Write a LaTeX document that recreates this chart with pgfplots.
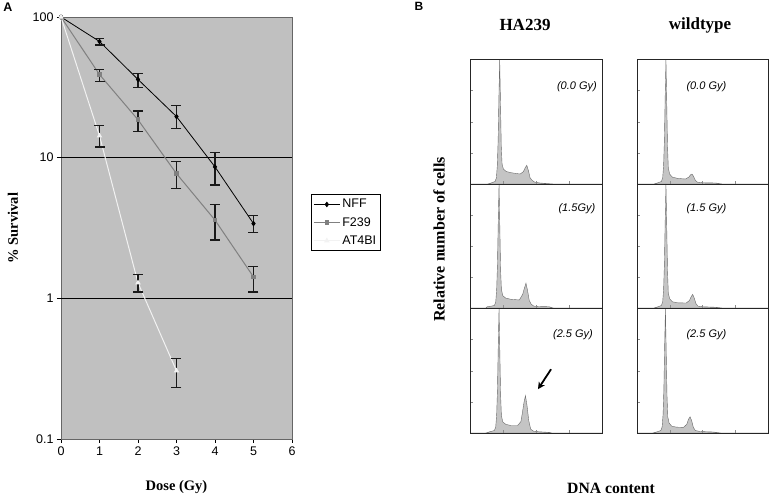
\documentclass[border=0pt]{standalone}
\usepackage{pgfplots}
\pgfplotsset{compat=1.18}
\usetikzlibrary{arrows.meta}
\usepackage{fontspec}
\setmainfont{Liberation Serif}
\newfontfamily\arial{Liberation Sans}
\definecolor{plotbg}{RGB}{192,192,192}
\definecolor{fgray}{RGB}{128,128,128}
\definecolor{atw}{RGB}{242,242,242}
\definecolor{histfill}{RGB}{196,196,196}
\definecolor{histline}{RGB}{105,105,105}
\tikzset{gylab/.style={font=\arial\itshape\fontsize{11}{13}\selectfont}}
\pgfplotsset{
  hist/.style={scale only axis, width=132pt, height=124.5pt,
    xmin=0, xmax=1, ymin=0, ymax=1,
    xtick={0.25,0.5,0.75}, ytick={0.25,0.5,0.75},
    xticklabels={}, yticklabels={},
    tick align=inside, tick pos=left, major tick length=3pt,
    tick style={black!45, line width=0.4pt},
    axis line style={black!85, line width=0.7pt},
    axis on top},
  histplot/.style={fill=histfill, draw=histline, line width=0.4pt},
  eb/.style={error bars/.cd, y dir=both, y explicit,
    error bar style={black!90, line width=1.2pt},
    error mark options={rotate=90, mark size=5pt, black!90, line width=1.2pt}}
}
\begin{document}
\begin{tikzpicture}
\path[use as bounding box] (0pt,0pt) rectangle (769pt,498pt);

% ---------------- Panel A ----------------
\begin{axis}[at={(61pt,59pt)}, anchor=south west, scale only axis,
  width=231pt, height=422pt,
  xmin=0, xmax=6, ymode=log, log basis y=10, ymin=0.1, ymax=100,
  xtick={0,1,2,3,4,5,6},
  ytick={0.1,1,10,100}, yticklabels={0.1,1,10,100}, yminorticks=false,
  axis background/.style={fill=plotbg},
  axis line style={black!60, line width=0.8pt},
  tick align=outside, tick pos=left, major tick length=4pt,
  tick style={black, line width=0.8pt},
  tick label style={font=\arial\fontsize{12.5}{14}\selectfont},
  /pgf/number format/assume math mode=true,
  extra y ticks={1,10}, extra y tick labels={},
  extra y tick style={grid=major, major grid style={black, line width=0.9pt}, major tick length=0pt},
  xlabel={Dose (Gy)}, ylabel={\% Survival},
  label style={font=\fontsize{14.5}{16}\selectfont\bfseries},
  xlabel style={at={(axis description cs:0.5,-0.114)}, anchor=center},
  ylabel style={at={(axis description cs:-0.208,0.5)}, anchor=center},
  legend style={at={(1.082,0.5806)}, anchor=north west, draw=black, fill=white,
    font=\arial\fontsize{12.5}{14}\selectfont, inner xsep=2pt, inner ysep=3pt,
    row sep=4pt, legend cell align=left, line width=0.8pt},
  legend image code/.code={\draw[#1] (0pt,0pt) -- (26pt,0pt);
     \draw[#1, mark repeat=2, mark phase=2] plot coordinates {(0pt,0pt) (13pt,0pt) (26pt,0pt)};},
]
\addplot[black, line width=0.8pt, mark=diamond*, mark size=2.2pt, mark options={black}, eb]
  coordinates {(0,100) (1,67) += (0,3.6) -= (0,3.8) (2,36) += (0,3.9) -= (0,4.3)
   (3,19.6) += (0,3.9) -= (0,3.5) (4,8.6) += (0,2.3) -= (0,2.2) (5,3.4) += (0,0.5) -= (0,0.48)};
\addlegendentry{NFF}
\addplot[fgray, line width=1pt, mark=square*, mark size=1.8pt, mark options={fgray}, eb]
  coordinates {(0,100) (1,39) += (0,3.1) -= (0,4.2) (2,18.6) += (0,2.9) -= (0,3.2)
   (3,7.7) += (0,1.7) -= (0,1.7) (4,3.6) += (0,1.04) -= (0,1.0) (5,1.42) += (0,0.27) -= (0,0.31)};
\addlegendentry{F239}
\addplot[atw, line width=1pt, mark=triangle*, mark size=2.2pt, mark options={atw}, eb]
  coordinates {(0,100) (1,14.3) += (0,2.6) -= (0,2.4) (2,1.29) += (0,0.19) -= (0,0.18)
   (3,0.305) += (0,0.07) -= (0,0.072)};
\addlegendentry{AT4BI}
\end{axis}
\node[font=\arial\bfseries\fontsize{12.5}{14}\selectfont] at (8pt,491pt) {A};

% ---------------- Panel B ----------------
\node[font=\arial\bfseries\fontsize{12}{14}\selectfont] at (419pt,492pt) {B};
\node[font=\bfseries\fontsize{17}{19}\selectfont] at (525pt,473pt) {HA239};
\node[font=\bfseries\fontsize{17}{19}\selectfont] at (700pt,473pt) {wildtype};
\node[font=\bfseries\fontsize{16}{18}\selectfont, rotate=90] at (439pt,258.5pt) {Relative number of cells};
\node[font=\bfseries\fontsize{15.7}{17}\selectfont] at (611pt,10pt) {DNA content};

% left column
\begin{axis}[hist, at={(470pt,314pt)}, anchor=south west]
\addplot[histplot] coordinates {(0,0) (0.135,0) (0.165,0.01) (0.19,0.02) (0.2,0.05) (0.207,0.15) (0.213,0.35) (0.219,0.7) (0.225,1) (0.231,0.65) (0.237,0.3) (0.243,0.16) (0.253,0.12) (0.275,0.1) (0.315,0.09) (0.38,0.08) (0.405,0.1) (0.418,0.13) (0.43,0.15) (0.442,0.11) (0.455,0.05) (0.47,0.03) (0.49,0.015) (0.53,0.008) (0.63,0) (1,0)} \closedcycle;
\node[gylab] at (rel axis cs:0.81,0.785) {(0.0 Gy)};
\end{axis}
\begin{axis}[hist, at={(470pt,190pt)}, anchor=south west, height=124pt]
\addplot[histplot] coordinates {(0,0) (0.12,0) (0.13,0.01) (0.16,0.015) (0.185,0.02) (0.195,0.05) (0.202,0.15) (0.208,0.35) (0.214,0.7) (0.22,1) (0.226,0.65) (0.232,0.3) (0.238,0.15) (0.248,0.1) (0.27,0.08) (0.31,0.07) (0.374,0.065) (0.399,0.11) (0.412,0.16) (0.424,0.2) (0.436,0.14) (0.449,0.06) (0.464,0.03) (0.484,0.015) (0.52,0.012) (0.6,0.01) (0.63,0) (1,0)} \closedcycle;
\node[gylab] at (rel axis cs:0.81,0.805) {(1.5Gy)};
\end{axis}
\begin{axis}[hist, at={(470pt,65pt)}, anchor=south west]
\addplot[histplot] coordinates {(0,0) (0.12,0) (0.15,0.01) (0.185,0.02) (0.195,0.05) (0.202,0.15) (0.208,0.35) (0.214,0.7) (0.22,1) (0.226,0.65) (0.232,0.3) (0.238,0.14) (0.248,0.09) (0.27,0.07) (0.31,0.06) (0.36,0.06) (0.385,0.09) (0.395,0.15) (0.408,0.24) (0.42,0.3) (0.432,0.22) (0.445,0.1) (0.46,0.03) (0.48,0.015) (0.52,0.01) (0.6,0.005) (0.62,0) (1,0)} \closedcycle;
\node[gylab] at (rel axis cs:0.78,0.79) {(2.5 Gy)};
\draw[-{Stealth[length=7pt,width=7pt]}, line width=1.8pt, black] (axis cs:0.614,0.512) -- (axis cs:0.515,0.352);
\end{axis}

% right column
\begin{axis}[hist, at={(637pt,314pt)}, anchor=south west, width=131pt]
\addplot[histplot] coordinates {(0,0) (0.13,0) (0.16,0.01) (0.186,0.02) (0.196,0.05) (0.203,0.15) (0.209,0.35) (0.215,0.7) (0.221,1) (0.227,0.65) (0.233,0.3) (0.239,0.13) (0.249,0.08) (0.27,0.055) (0.31,0.045) (0.37,0.04) (0.395,0.055) (0.41,0.075) (0.42,0.08) (0.432,0.06) (0.445,0.03) (0.46,0.015) (0.5,0.01) (0.6,0.008) (0.65,0) (1,0)} \closedcycle;
\node[gylab] at (rel axis cs:0.53,0.785) {(0.0 Gy)};
\end{axis}
\begin{axis}[hist, at={(637pt,190pt)}, anchor=south west, width=131pt, height=124pt]
\addplot[histplot] coordinates {(0,0) (0.13,0) (0.16,0.01) (0.186,0.02) (0.196,0.05) (0.203,0.15) (0.209,0.35) (0.215,0.7) (0.221,1) (0.227,0.65) (0.233,0.3) (0.239,0.12) (0.249,0.075) (0.27,0.05) (0.31,0.042) (0.375,0.04) (0.4,0.06) (0.413,0.09) (0.425,0.11) (0.437,0.08) (0.45,0.035) (0.465,0.015) (0.5,0.01) (0.6,0.006) (0.65,0) (1,0)} \closedcycle;
\node[gylab] at (rel axis cs:0.53,0.805) {(1.5 Gy)};
\end{axis}
\begin{axis}[hist, at={(637pt,65pt)}, anchor=south west, width=131pt]
\addplot[histplot] coordinates {(0,0) (0.12,0) (0.155,0.01) (0.182,0.02) (0.192,0.05) (0.199,0.15) (0.205,0.35) (0.211,0.7) (0.217,1) (0.223,0.65) (0.229,0.3) (0.235,0.13) (0.245,0.08) (0.265,0.055) (0.3,0.047) (0.355,0.045) (0.38,0.07) (0.393,0.11) (0.405,0.13) (0.417,0.1) (0.43,0.045) (0.445,0.02) (0.48,0.012) (0.58,0.008) (0.64,0) (1,0)} \closedcycle;
\node[gylab] at (rel axis cs:0.53,0.79) {(2.5 Gy)};
\end{axis}
\end{tikzpicture}
\end{document}
